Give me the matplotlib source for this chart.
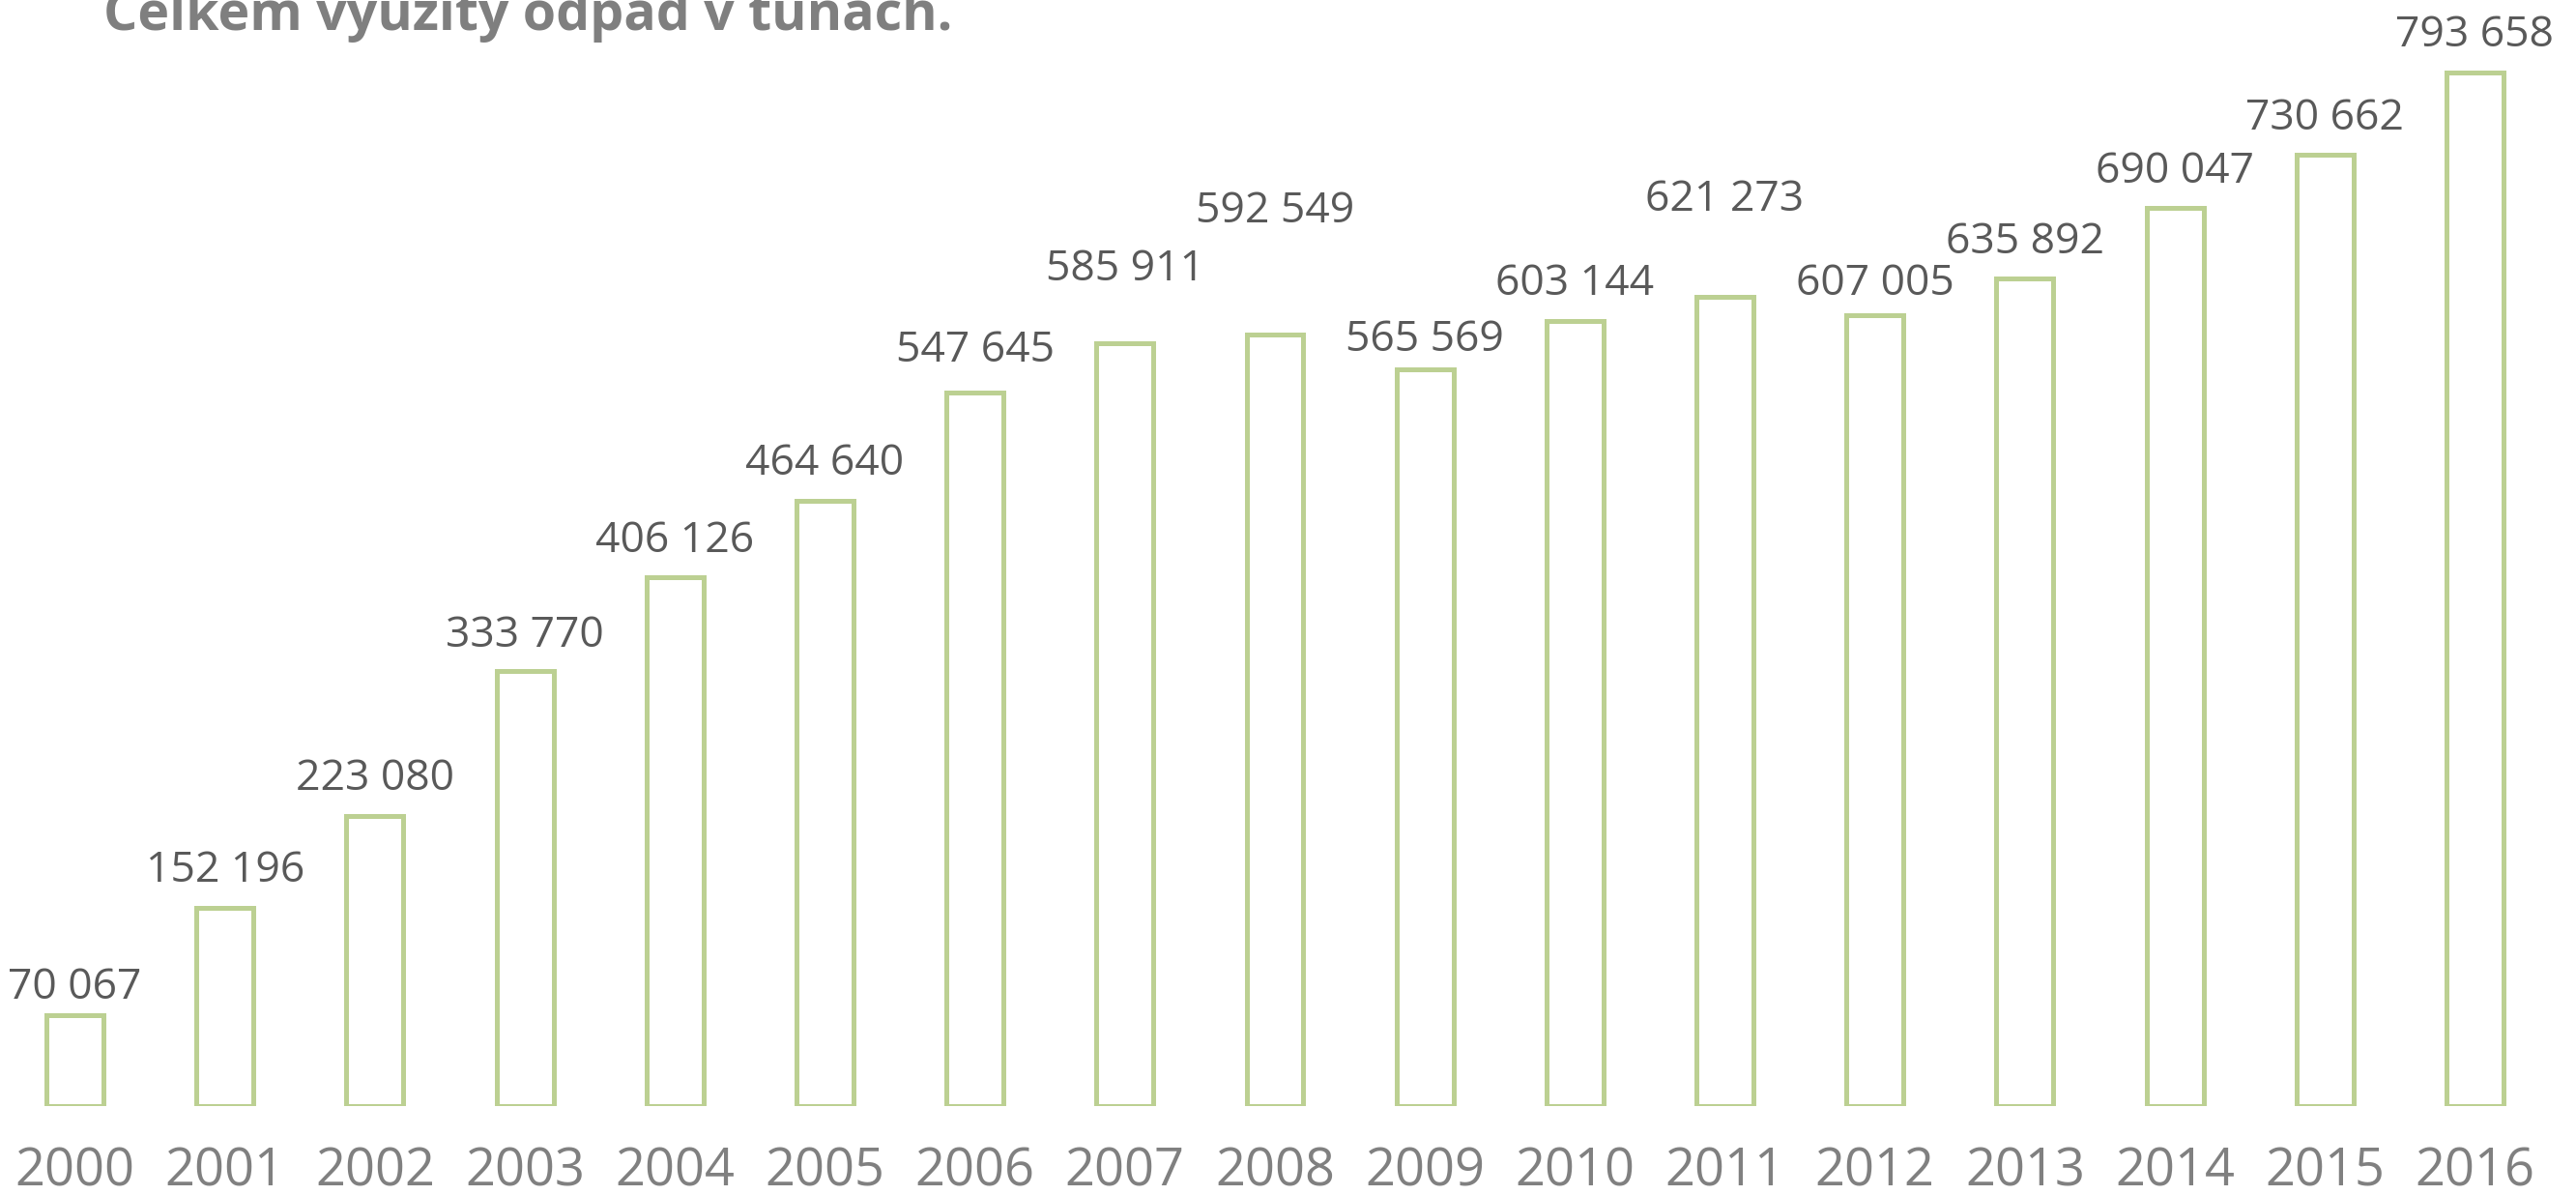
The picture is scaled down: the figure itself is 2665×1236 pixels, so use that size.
import matplotlib
matplotlib.use("Agg")
import matplotlib.pyplot as plt

years = ["2000", "2001", "2002", "2003", "2004", "2005", "2006", "2007", "2008",
         "2009", "2010", "2011", "2012", "2013", "2014", "2015", "2016"]
values = [70067, 152196, 223080, 333770, 406126, 464640, 547645, 585911, 592549,
          565569, 603144, 621273, 607005, 635892, 690047, 730662, 793658]
value_labels = ["70 067", "152 196", "223 080", "333 770", "406 126", "464 640",
                "547 645", "585 911", "592 549", "565 569", "603 144", "621 273",
                "607 005", "635 892", "690 047", "730 662", "793 658"]
title = "Celkem využitý odpad v tunách."

# label offsets above bar tops (pixels) - style only
label_offsets = [28, 38, 38, 37, 37, 38, 44, 76, 127, 30, 38, 100, 33, 37, 37, 37, 38]

plt.rcParams['font.family'] = ['Open Sans', 'DejaVu Sans']

fig = plt.figure(figsize=(26.65, 12.36), dpi=100)
ax = fig.add_axes([0.0, 1 - 1144 / 1236, 2638 / 2665, 1144 / 1236])

x = list(range(len(years)))
ax.bar(x, values, width=0.38, facecolor="white", edgecolor="#bcd092", linewidth=3.6)

ax.set_xlim(-0.5, len(years) - 0.5)
ax.set_ylim(0, 849350)

for xi, v, lab, off in zip(x, values, value_labels, label_offsets):
    ax.annotate(lab, (xi, v), xytext=(0, off), textcoords="offset pixels",
                ha="center", va="center", fontsize=32, color="#595959",
                annotation_clip=False)

ax.set_xticks(x)
ax.set_xticklabels(years, fontsize=39, color="#808080")
ax.tick_params(axis="x", length=0, pad=29)
ax.set_yticks([])
for s in ax.spines.values():
    s.set_visible(False)

fig.text(107 / 2665, 1 - 31 / 1236, title, fontsize=40, fontweight="bold",
         color="#7f7f7f", ha="left", va="baseline")

fig.savefig("out.png", dpi=100)
